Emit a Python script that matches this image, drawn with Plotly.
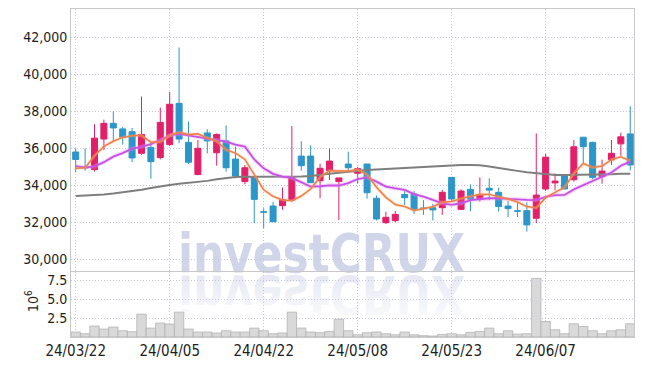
import base64
import plotly.graph_objects as go

# ---------------- data ----------------
tick_labels = ["24/03/22", "24/04/05", "24/04/22", "24/05/08", "24/05/23", "24/06/07"]
tick_pos = [0, 10, 20, 30, 40, 50]

opens = [35800, 35000, 34850, 36500, 37350, 37050, 36900, 35730, 36050, 35500,
         36200, 38430, 36320, 34580, 36830, 35760, 36400, 35420, 34200, 34430,
         32570, 32880, 32900, 33200, 35580, 35580, 34250, 34790, 34200, 35150,
         34650, 35150, 33300, 31980, 32090, 33500, 33530, 32780, 32790, 32790,
         34430, 32700, 33780, 33250, 33840, 33620, 32880, 32620, 32630, 32220,
         33800, 34130, 34520, 34300, 36600, 36320, 34470, 35370, 36240, 36780]
highs = [36000, 36000, 37300, 37550, 38000, 37150, 37100, 38800, 36300, 38200,
         39050, 41450, 37450, 36450, 37030, 36800, 37240, 36090, 35100, 34430,
         32760, 33110, 33880, 37200, 36380, 36160, 35170, 35980, 34400, 35820,
         35000, 35150, 33450, 32570, 32610, 33700, 33680, 33200, 33000, 33750,
         34450, 33790, 34050, 34430, 34380, 33870, 33150, 33100, 33080, 36810,
         35700, 34650, 34610, 36450, 36600, 36360, 35390, 36450, 36840, 38280]
lows = [34700, 34790, 34750, 35900, 36350, 36200, 35250, 35650, 34350, 35400,
        36120, 36270, 35150, 34550, 35730, 35060, 34730, 34380, 34050, 31950,
        31680, 32030, 32680, 33120, 34790, 34140, 33300, 34290, 32120, 34700,
        34110, 33280, 32100, 31910, 32000, 32940, 32450, 32400, 32100, 32400,
        33150, 32660, 32600, 33120, 33200, 32580, 32280, 32290, 31500, 31950,
        33700, 33730, 33800, 34200, 35190, 34330, 34090, 35100, 35600, 34800]
closes = [35400, 34950, 36550, 37350, 37100, 36600, 35480, 36750, 35280, 37400,
          38380, 36500, 35250, 36000, 36400, 36750, 34950, 34500, 34950, 33240,
          32550, 32030, 33220, 34450, 35060, 34140, 34920, 35310, 34400, 34950,
          34900, 33600, 32180, 32270, 32430, 33330, 32700, 32740, 32670, 33620,
          33260, 33690, 33250, 33500, 33740, 32850, 32740, 32600, 31860, 33470,
          35520, 34230, 33800, 36080, 36090, 34430, 34770, 35730, 36620, 35100]

ma_short = [34920, 34950, 35600, 36100, 36380, 36590, 36680, 36700, 36330, 36350,
            36700, 36870, 36750, 36780, 36560, 36380, 35920, 35740, 35400, 34600,
            33760, 33400, 33210, 33160, 33420, 33800, 34440, 34790, 34780, 34770,
            34850, 34580, 33900, 33350, 32960, 32850, 32640, 32730, 32840, 33080,
            33120, 33280, 33400, 33520, 33510, 33400, 33260, 33100, 32850, 32780,
            33330, 33620, 33880, 34640, 35180, 34960, 35040, 35390, 35540, 35330]
ma_mid = [35040, 34960, 35020, 35250, 35550, 35740, 35980, 36080, 36230, 36440,
          36690, 36780, 36700, 36600, 36520, 36450, 36360, 36200, 36090, 35400,
          34920, 34620, 34470, 34400, 34150, 33930, 33950, 34000, 33990, 34120,
          34340, 34430, 34200, 33930, 33840, 33750, 33520, 33390, 33210, 33030,
          32940, 33030, 33200, 33250, 33300, 33300, 33260, 33240, 33210, 33200,
          33380, 33470, 33480, 33780, 34020, 34230, 34460, 34690, 35060, 35280]
ma_long = [33420, 33440, 33470, 33510, 33560, 33620, 33690, 33760, 33850, 33950,
           34020, 34080, 34130, 34180, 34240, 34330, 34410, 34450, 34460, 34460,
           34450, 34440, 34430, 34430, 34470, 34510, 34550, 34620, 34680, 34740,
           34790, 34830, 34860, 34890, 34910, 34930, 34950, 34980, 35010, 35040,
           35080, 35100, 35100, 35090, 35020, 34930, 34850, 34780, 34710, 34650,
           34590, 34560, 34560, 34560, 34560, 34570, 34580, 34600, 34620, 34630]

volume_m = [0.66, 0.43, 1.45, 1.05, 1.32, 0.83, 0.70, 3.03, 1.18, 1.84,
            1.71, 3.29, 1.05, 0.66, 0.66, 0.53, 0.83, 0.66, 0.66, 1.18,
            0.83, 0.43, 0.53, 3.29, 1.18, 0.66, 0.57, 0.74, 2.37, 0.83,
            0.30, 0.57, 0.66, 0.43, 0.30, 0.66, 0.30, 0.17, 0.13, 0.34,
            0.43, 0.30, 0.61, 0.74, 1.18, 0.43, 0.83, 0.39, 0.43, 7.76,
            2.05, 0.96, 0.43, 1.75, 1.39, 0.83, 0.43, 0.83, 0.96, 1.75]

price_ticks = [30000, 32000, 34000, 36000, 38000, 40000, 42000]
vol_ticks = [2.5, 5.0, 7.5]

idx = list(range(len(closes)))

# ---------------- style ----------------
RED = "#E2206A"
BLUE = "#2C96C9"
GRID = "#C6C8DF"
LINE = "#C8C8C8"
FONT = "DejaVu Sans Condensed, DejaVu Sans, sans-serif"
TXT = "#1E1E1E"

fig = go.Figure()

fig.add_trace(go.Candlestick(
    x=idx, open=opens, high=highs, low=lows, close=closes,
    increasing=dict(line=dict(color=RED, width=1), fillcolor=RED),
    decreasing=dict(line=dict(color=BLUE, width=1), fillcolor=BLUE),
    whiskerwidth=0, xaxis="x", yaxis="y", showlegend=False, hoverinfo="skip"))

fig.add_trace(go.Scatter(x=idx, y=ma_long, mode="lines",
                         line=dict(color="#7E7E7E", width=2), xaxis="x", yaxis="y",
                         showlegend=False, hoverinfo="skip"))
fig.add_trace(go.Scatter(x=idx, y=ma_mid, mode="lines",
                         line=dict(color="rgba(225,150,240,0.35)", width=4), xaxis="x", yaxis="y",
                         showlegend=False, hoverinfo="skip"))
fig.add_trace(go.Scatter(x=idx, y=ma_mid, mode="lines",
                         line=dict(color="#C850E6", width=1.8), xaxis="x", yaxis="y",
                         showlegend=False, hoverinfo="skip"))
fig.add_trace(go.Scatter(x=idx, y=ma_short, mode="lines",
                         line=dict(color="rgba(245,170,130,0.35)", width=3.2), xaxis="x", yaxis="y",
                         showlegend=False, hoverinfo="skip"))
fig.add_trace(go.Scatter(x=idx, y=ma_short, mode="lines",
                         line=dict(color="#EE8045", width=1.5), xaxis="x", yaxis="y",
                         showlegend=False, hoverinfo="skip"))

fig.add_trace(go.Bar(x=idx, y=volume_m, width=1,
                     marker=dict(color="#D9D9D9", line=dict(color="#B4B4B4", width=0.8)),
                     xaxis="x2", yaxis="y2", showlegend=False, hoverinfo="skip"))

# watermark with reflection
svg = '''<svg xmlns="http://www.w3.org/2000/svg" width="300" height="100" viewBox="0 0 300 100">
<defs><linearGradient id="g" x1="0" y1="0" x2="0" y2="1">
<stop offset="0" stop-color="#DDE1EF" stop-opacity="0.05"/>
<stop offset="1" stop-color="#DDE1EF" stop-opacity="0.9"/></linearGradient></defs>
<text x="0" y="41" font-family="DejaVu Sans" font-weight="bold" font-size="54" textLength="287" lengthAdjust="spacingAndGlyphs" fill="#D0D5EA">investCRUX</text>
<g transform="translate(0,86) scale(1,-1)">
<text x="0" y="41" font-family="DejaVu Sans" font-weight="bold" font-size="54" textLength="287" lengthAdjust="spacingAndGlyphs" fill="url(#g)">investCRUX</text>
</g></svg>'''
src = "data:image/svg+xml;base64," + base64.b64encode(svg.encode()).decode()

PW, PH = 563.0, 328.0
fig.add_layout_image(dict(source=src, xref="paper", yref="paper",
                          x=(178 - 71) / PW, y=(337 - 231) / PH,
                          sizex=300 / PW, sizey=100 / PH,
                          xanchor="left", yanchor="top", sizing="stretch", layer="below"))

fig.add_annotation(text="10<sup>6</sup>", xref="paper", yref="paper",
                   x=(32 - 71) / PW, y=(337 - 301) / PH, showarrow=False, textangle=-90,
                   xanchor="center", yanchor="middle",
                   font=dict(family=FONT, size=14, color=TXT))

axis_common = dict(showgrid=True, gridcolor=GRID, griddash="1px,2px", gridwidth=1,
                   zeroline=False, linecolor=LINE, linewidth=1, automargin=False)

fig.update_layout(
    width=645, height=366,
    margin=dict(l=71, r=11, t=9, b=29, autoexpand=False),
    paper_bgcolor="white", plot_bgcolor="white",
    showlegend=False, boxgap=0.2, boxgroupgap=0.2,
    font=dict(family=FONT, size=14, color=TXT),
    xaxis=dict(domain=[0, 1], anchor="y", range=[-0.5, 59.4], tickvals=tick_pos,
               showticklabels=False, showline=True, mirror=True, ticks="",
               rangeslider=dict(visible=False), **axis_common),
    xaxis2=dict(domain=[0, 1], anchor="y2", matches="x", range=[-0.5, 59.4],
                tickvals=tick_pos, ticktext=tick_labels, showline=True, ticks="",
                tickfont=dict(family=FONT, size=15, color=TXT), **axis_common),
    yaxis=dict(domain=[0.2012, 1], anchor="x", range=[29368, 43530],
               tickvals=price_ticks, ticktext=[f"{v:,}" for v in price_ticks],
               showline=True, mirror=True, ticks="",
               tickfont=dict(family=FONT, size=14, color=TXT), **axis_common),
    yaxis2=dict(domain=[0, 0.198], anchor="x2", range=[0, 8.6],
                tickvals=vol_ticks, ticktext=["2.5", "5.0", "7.5"],
                showline=True, mirror=True, ticks="",
                tickfont=dict(family=FONT, size=14, color=TXT), **axis_common),
)

fig.write_html("out.html", config={"displayModeBar": False},
               post_script="document.body.style.margin='0px';document.body.style.overflow='hidden';")
